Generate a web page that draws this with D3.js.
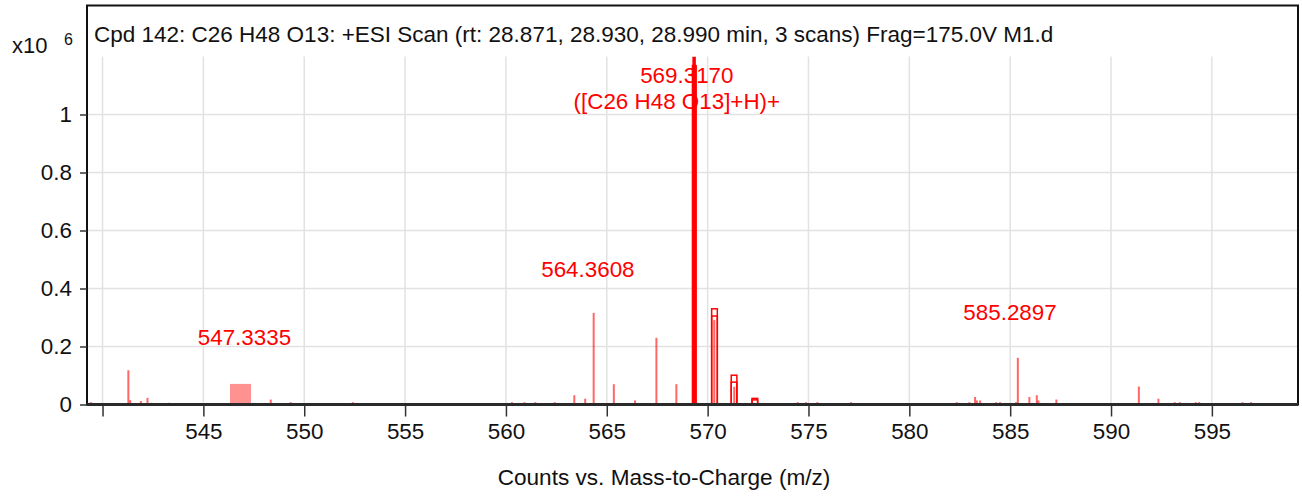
<!DOCTYPE html>
<html><head><meta charset="utf-8">
<script src="https://cdn.jsdelivr.net/npm/d3@7/dist/d3.min.js"></script>
<style>
html,body{margin:0;padding:0;background:#fff;}
svg{display:block;font-family:"Liberation Sans",Arial,sans-serif;}
</style></head>
<body>
<svg id="chart" width="1302" height="498"></svg>
<script>
// ---- data (intensity in units of 10^6 counts) ----
const spectrumMz = [539.42, 541.28, 541.37, 541.90, 542.23, 542.42, 543.30, 548.34, 549.33, 552.41,
  560.30, 560.92, 561.46, 562.42, 563.39, 563.93, 564.35, 565.35, 566.40, 567.46, 568.45,
  569.33, 570.33, 571.32, 574.47, 574.88, 575.44, 577.11, 581.39, 582.35, 582.98, 583.26, 583.35,
  583.51, 584.30, 584.50, 585.29, 585.38, 585.95, 586.32, 586.40, 587.29, 591.38, 592.35,
  593.16, 593.41, 594.20, 594.37, 596.52, 596.94];
const spectrumCounts = [0.008, 0.118, 0.015, 0.012, 0.023, 0.006, 0.006, 0.017, 0.008, 0.008,
  0.008, 0.008, 0.008, 0.008, 0.032, 0.020, 0.316, 0.070, 0.014, 0.230, 0.070,
  1.199, 0.291, 0.061, 0.008, 0.008, 0.008, 0.008, 0.005, 0.008, 0.008, 0.026, 0.014,
  0.014, 0.008, 0.008, 0.008, 0.161, 0.026, 0.032, 0.014, 0.017, 0.062, 0.020,
  0.008, 0.008, 0.008, 0.008, 0.008, 0.008];
// predicted isotope pattern boxes
const isoMz = [569.34, 570.34, 571.31, 572.34];
const isoOuter = [1.17, 0.330, 0.101, 0.021];
const isoInner = [1.15, 0.305, 0.077, 0.016];
// marked region
const regionMz = [546.32, 547.36];
const regionCounts = [0.071];
// annotations
const labelText = ["547.3335", "564.3608", "569.3170", "([C26 H48 O13]+H)+", "585.2897"];
const labelMz = [547.3335, 564.3608, 569.3170, 569.3170, 585.2897];
const labelY = [0.205, 0.440, 1.108, 1.018, 0.291];
const xTicks = [540, 545, 550, 555, 560, 565, 570, 575, 580, 585, 590, 595];
const xTickLabels = ["", "545", "550", "555", "560", "565", "570", "575", "580", "585", "590", "595"];
const yTicks = [0, 0.2, 0.4, 0.6, 0.8, 1];
const yTickLabels = ["0", "0.2", "0.4", "0.6", "0.8", "1"];
const titleText = "Cpd 142: C26 H48 O13: +ESI Scan (rt: 28.871, 28.930, 28.990 min, 3 scans) Frag=175.0V M1.d";
const xTitle = "Counts vs. Mass-to-Charge (m/z)";

// ---- layout ----
const svg = d3.select("#chart");
const L = 87, R = 1298, T = 5.5, B = 404.5;
const x = d3.scaleLinear().domain([539.23, 599.27]).range([L, R]);
const y = d3.scaleLinear().domain([0, 1.2]).range([B, 56.5]);
const red = "#ff0000";
const FS = 22.4;

// grid
const grid = svg.append("g");
grid.selectAll("line.v").data(xTicks).join("line")
  .attr("x1", d => x(d)).attr("x2", d => x(d)).attr("y1", y(1.2)).attr("y2", B)
  .attr("stroke", "#e2e2e2").attr("stroke-width", 1.5);
grid.selectAll("line.h").data(yTicks.filter(d => d > 0)).join("line")
  .attr("x1", L).attr("x2", R).attr("y1", d => y(d)).attr("y2", d => y(d))
  .attr("stroke", "#e2e2e2").attr("stroke-width", 1.5);

// region rectangle
svg.append("rect").attr("x", x(regionMz[0])).attr("width", x(regionMz[1]) - x(regionMz[0]))
  .attr("y", y(regionCounts[0])).attr("height", B - y(regionCounts[0]))
  .attr("fill", "#ff9191");

// spectrum lines
const maxI = d3.max(spectrumCounts);
svg.append("g").selectAll("line").data(spectrumMz.map((m, i) => [m, spectrumCounts[i]])).join("line")
  .attr("x1", d => x(d[0])).attr("x2", d => x(d[0]))
  .attr("y1", B).attr("y2", d => y(d[1]))
  .attr("stroke", d => d[1] === maxI ? red : "rgba(255,0,0,0.6)")
  .attr("stroke-width", d => d[1] === maxI ? 3.5 : 2);

// isotope boxes
const iso = svg.append("g");
isoMz.forEach((m, i) => {
  const main = i === 0;
  const w = main ? 0.22 : 0.28;
  iso.append("rect").attr("x", x(m - w / 2)).attr("width", x(m + w / 2) - x(m - w / 2))
    .attr("y", y(isoOuter[i])).attr("height", B - y(isoOuter[i]))
    .attr("fill", main ? red : "none").attr("stroke", red).attr("stroke-width", main ? 0.8 : 1.5);
  if (!main) {
    iso.append("rect").attr("x", x(m - w / 2)).attr("width", x(m + w / 2) - x(m - w / 2))
      .attr("y", y(isoInner[i])).attr("height", B - y(isoInner[i]))
      .attr("fill", "none").attr("stroke", red).attr("stroke-width", 1.5);
  }
});

// annotations
const labOff = [-6, -6, -7, -17, -6];
svg.append("g").selectAll("text").data(labelText).join("text")
  .attr("x", (d, i) => x(labelMz[i]) + labOff[i]).attr("y", (d, i) => y(labelY[i]))
  .attr("text-anchor", "middle").attr("fill", red).attr("font-size", FS)
  .text(d => d);

// frame
svg.append("rect").attr("x", L).attr("y", T).attr("width", R - L).attr("height", B - T)
  .attr("fill", "none").attr("stroke", "#111").attr("stroke-width", 2);
svg.append("line").attr("x1", L).attr("x2", R).attr("y1", B).attr("y2", B)
  .attr("stroke", "#2a2a2a").attr("stroke-width", 3);

// x axis
const xAxis = d3.axisBottom(x).tickValues(xTicks).tickSize(11).tickPadding(7)
  .tickFormat((d, i) => xTickLabels[i]);
const gx = svg.append("g").attr("transform", `translate(0,${B + 1})`).call(xAxis);
gx.select(".domain").remove();
gx.selectAll(".tick line").attr("stroke", "#333").attr("stroke-width", 1.5);
gx.selectAll(".tick text").attr("font-size", FS).attr("fill", "#111")
  .attr("font-family", "Liberation Sans, Arial, sans-serif");

// y axis
const yAxis = d3.axisLeft(y).tickValues(yTicks).tickSize(7).tickPadding(8)
  .tickFormat((d, i) => yTickLabels[i]);
const gy = svg.append("g").attr("transform", `translate(${L},0)`).call(yAxis);
gy.select(".domain").remove();
gy.selectAll(".tick line").attr("stroke", "#333").attr("stroke-width", 1.5);
gy.selectAll(".tick text").attr("font-size", FS).attr("fill", "#111")
  .attr("font-family", "Liberation Sans, Arial, sans-serif");

// title & labels
svg.append("text").attr("x", 94).attr("y", 42).attr("font-size", 22.5).attr("fill", "#111").text(titleText);
svg.append("text").attr("x", 12).attr("y", 53).attr("font-size", 22).attr("fill", "#111").text("x10");
svg.append("text").attr("x", 64).attr("y", 45).attr("font-size", 16).attr("fill", "#111").text("6");
svg.append("text").attr("x", 664).attr("y", 485).attr("text-anchor", "middle").attr("font-size", 22.6)
  .attr("fill", "#111").text(xTitle);
</script>
</body></html>
